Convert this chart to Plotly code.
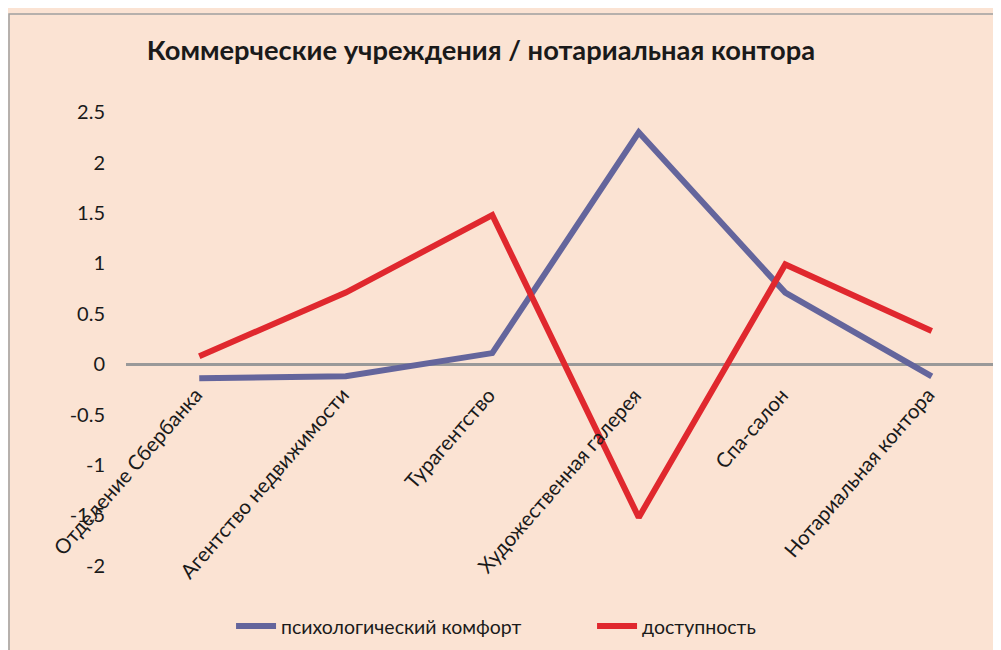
import plotly.graph_objects as go

categories = ["Отделение Сбербанка", "Агентство недвижимости", "Турагентство",
              "Художественная галерея", "Спа-салон", "Нотариальная контора"]
comfort = [-0.14, -0.12, 0.11, 2.30, 0.71, -0.12]
access = [0.08, 0.71, 1.48, -1.52, 0.99, 0.33]
y_ticks = [-2, -1.5, -1, -0.5, 0, 0.5, 1, 1.5, 2, 2.5]
y_tick_text = ["-2", "-1.5", "-1", "-0.5", "0", "0.5", "1", "1.5", "2", "2.5"]

BG = "#FBE3D3"
FONT = "Lato"
TXT = "#1a1a1a"

fig = go.Figure()
fig.add_trace(go.Scatter(x=categories, y=comfort, mode="lines", name="психологический комфорт",
                         line=dict(color="#64659C", width=6)))
fig.add_trace(go.Scatter(x=categories, y=access, mode="lines", name="доступность",
                         line=dict(color="#E0282E", width=6)))

annotations = []
for c in categories:
    annotations.append(dict(x=c, y=0, xref="x", yref="y", text=c, showarrow=False,
                            textangle=-49, xanchor="right", yanchor="top",
                            xshift=10, yshift=-16,
                            font=dict(family=FONT, size=20.5, color=TXT)))

fig.update_layout(
    width=1001, height=650,
    paper_bgcolor=BG, plot_bgcolor=BG,
    margin=dict(l=118, r=4, t=84, b=72),
    title=dict(text="<b>Коммерческие учреждения / нотариальная контора</b>",
               x=0.4725, xanchor="center", y=0.935, yanchor="middle",
               font=dict(family=FONT, size=27.3, color=TXT)),
    xaxis=dict(type="category", range=[-0.5, 5.5], showticklabels=False,
               showgrid=False, zeroline=False, showline=False),
    yaxis=dict(range=[-2.2, 2.7], tickvals=y_ticks, ticktext=y_tick_text,
               showgrid=False, zeroline=True, zerolinecolor="#999999", zerolinewidth=3,
               showline=False, ticklabelstandoff=20,
               tickfont=dict(family=FONT, size=20, color=TXT)),
    legend=dict(orientation="h", x=0.1195, xanchor="left", y=-0.042, yanchor="top",
                font=dict(family=FONT, size=19.5, color=TXT),
                bgcolor="rgba(0,0,0,0)", entrywidth=306, entrywidthmode="pixels",
                itemwidth=40),
    annotations=annotations,
    shapes=[dict(type="rect", xref="paper", yref="paper", x0=-0.1331, x1=1.2,
                 y0=-0.3, y1=1.158, line=dict(color="#A0A0A0", width=1.5),
                 fillcolor="rgba(0,0,0,0)", layer="below")],
)

fig.write_html("out.html")
